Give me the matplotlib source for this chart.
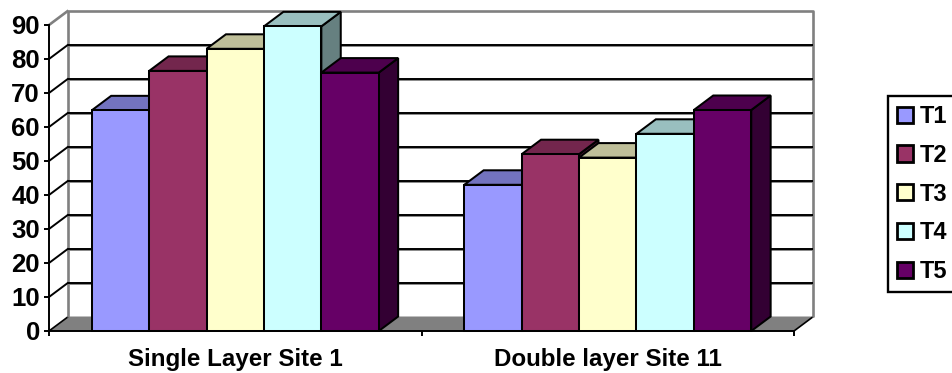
import matplotlib
matplotlib.use("Agg")
import matplotlib.pyplot as plt
from matplotlib.patches import Patch, Polygon
from matplotlib.colors import to_rgb

plt.rcParams["font.family"] = ["Liberation Sans", "DejaVu Sans"]
plt.rcParams["font.weight"] = "bold"

categories = ["Single Layer Site 1", "Double layer Site 11"]
series_names = ["T1", "T2", "T3", "T4", "T5"]
t1 = [64.9, 43.0]
t2 = [76.5, 52.0]
t3 = [83.0, 51.0]
t4 = [89.6, 58.0]
t5 = [76.0, 65.0]
series_values = [t1, t2, t3, t4, t5]
colors = ["#9999FF", "#993366", "#FFFFCC", "#CCFFFF", "#660066"]
y_ticks = list(range(0, 100, 10))

W, H = 952, 373
fig = plt.figure(figsize=(W / 100, H / 100), dpi=100)
ax = fig.add_axes([49 / W, (H - 331) / H, 745 / W, 306 / H])
ax.set_xlim(0, 2)
ax.set_ylim(0, 90)

# Oblique depth of the 3-D box, converted from pixels to data units
DX = 19.4 / (745 / 2)
DY = 14.5 / (306 / 90)
GREY = "#808080"
EDGE = 1.45

def poly(pts, face, z, edge="black", lw=EDGE):
    ax.add_patch(Polygon(pts, closed=True, facecolor=face, edgecolor=edge, linewidth=lw,
                         joinstyle="miter", clip_on=False, zorder=z))

def line(xs, ys, color, lw, z):
    ax.plot(xs, ys, color=color, lw=lw, clip_on=False, zorder=z, solid_capstyle="butt")

def shade(color, k):
    return tuple(c * k for c in to_rgb(color))

# Floor
poly([(0, 0), (2, 0), (2 + DX, DY), (DX, DY)], GREY, 1, edge="none", lw=0)
line([0, DX], [0, DY], "black", 1.2, 2)
line([2, 2 + DX], [0, DY], "black", 1.2, 2)

# Back wall outline and side-wall diagonals
line([DX, DX, 2 + DX, 2 + DX], [DY, 90 + DY, 90 + DY, DY], GREY, 1.9, 2)
line([0, DX], [90, 90 + DY], GREY, 1.9, 2)

# Gridlines wrapping from the value axis across the back wall
for v in y_ticks[1:-1]:
    line([DX, 2 + DX], [v + DY - 0.4, v + DY - 0.4], GREY, 1.3, 2)
    line([DX, 2 + DX], [v + DY, v + DY], "black", 1.4, 3)
    line([0, DX], [v, v + DY], "black", 1.4, 3)

# Bars, painted left to right so that later faces overlap earlier ones
n = len(series_values)
gap = 85.5 / 745
width = (1 - 2 * gap) / n
z = 10
for g in range(len(categories)):
    for s in range(n):
        v = series_values[s][g]
        x0 = g + gap + s * width
        x1 = x0 + width
        col = colors[s]
        poly([(x1, 0), (x1 + DX, DY), (x1 + DX, v + DY), (x1, v)], shade(col, 0.5), z)
        poly([(x0, v), (x1, v), (x1 + DX, v + DY), (x0 + DX, v + DY)], shade(col, 0.75), z)
        ax.bar(x0, v, width=width, align="edge", color=col, edgecolor="black", linewidth=EDGE,
               clip_on=False, zorder=z + 0.5)
        z += 1

# Axes
for side in ("top", "right"):
    ax.spines[side].set_visible(False)
for side in ("left", "bottom"):
    ax.spines[side].set_linewidth(1.4)
    ax.spines[side].set_zorder(200)
ax.set_yticks(y_ticks)
ax.tick_params(axis="y", length=3.6, width=1.4, pad=3, labelsize=18.5)
ax.set_xticks([0, 1, 2])
ax.set_xticklabels([])
ax.tick_params(axis="x", length=3.6, width=1.4)
for g, name in enumerate(categories):
    ax.text(g + 0.5, -5.0, name, ha="center", va="top", fontsize=17.4, fontweight="bold", clip_on=False)

# Legend runs off the right-hand side of the canvas
handles = [Patch(facecolor=c, edgecolor="black", linewidth=2.0) for c in colors]
leg = fig.legend(handles, series_names, loc="upper left",
                 bbox_to_anchor=(888 / W, (H - 96) / H), fontsize=17, ncol=1,
                 fancybox=False, framealpha=1, edgecolor="black",
                 handlelength=0.68, handleheight=0.68, handletextpad=0.27,
                 labelspacing=0.67, borderpad=0.38, borderaxespad=0)
leg.get_frame().set_linewidth(1.7)

fig.savefig("out.png", dpi=100)
